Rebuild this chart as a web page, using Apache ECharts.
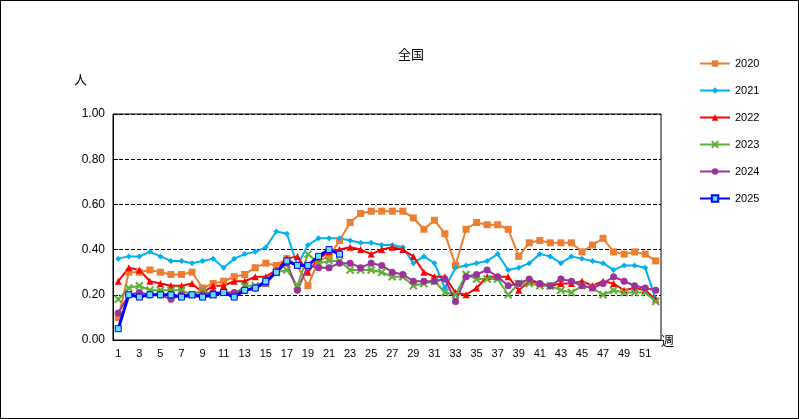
<!DOCTYPE html><html><head><meta charset="utf-8"><script src="https://cdn.jsdelivr.net/npm/echarts@6/dist/echarts.min.js"></script>
<style>body{margin:0}#c{width:797px;height:417px;border:1px solid #000}</style></head><body><div id="c"></div><script>
const weeks=Array.from({length:52},(_,i)=>String(i+1));
const names=['2020','2021','2022','2023','2024','2025'];
const s2020=[0.10,0.30,0.30,0.31,0.30,0.29,0.29,0.30,0.23,0.25,0.26,0.28,0.29,0.32,0.34,0.33,0.36,0.33,0.24,0.35,0.37,0.44,0.52,0.56,0.57,0.57,0.57,0.57,0.54,0.49,0.53,0.47,0.33,0.49,0.52,0.51,0.51,0.49,0.37,0.43,0.44,0.43,0.43,0.43,0.39,0.42,0.45,0.39,0.38,0.39,0.38,0.35];
const s2021=[0.36,0.37,0.37,0.39,0.37,0.35,0.35,0.34,0.35,0.36,0.32,0.36,0.38,0.39,0.41,0.48,0.47,0.33,0.42,0.45,0.45,0.45,0.44,0.43,0.43,0.42,0.42,0.41,0.34,0.37,0.34,0.23,0.32,0.33,0.34,0.35,0.38,0.31,0.32,0.34,0.38,0.37,0.34,0.37,0.36,0.35,0.34,0.31,0.33,0.33,0.32,0.18];
const s2022=[0.26,0.32,0.31,0.26,0.25,0.24,0.24,0.25,0.21,0.24,0.24,0.26,0.26,0.28,0.28,0.31,0.36,0.37,0.30,0.36,0.39,0.40,0.41,0.40,0.38,0.40,0.41,0.40,0.37,0.30,0.28,0.28,0.21,0.20,0.23,0.28,0.28,0.28,0.22,0.26,0.25,0.24,0.25,0.25,0.26,0.24,0.26,0.25,0.22,0.23,0.22,0.18];
const s2023=[0.18,0.23,0.24,0.22,0.22,0.22,0.22,0.20,0.22,0.20,0.21,0.20,0.24,0.24,0.25,0.30,0.31,0.24,0.38,0.34,0.35,0.35,0.31,0.31,0.31,0.30,0.28,0.28,0.24,0.25,0.26,0.21,0.20,0.29,0.27,0.27,0.27,0.20,0.25,0.25,0.24,0.24,0.22,0.21,0.24,0.23,0.20,0.22,0.21,0.21,0.21,0.17];
const s2024=[0.12,0.20,0.21,0.20,0.20,0.18,0.20,0.20,0.20,0.21,0.21,0.21,0.22,0.23,0.25,0.30,0.34,0.22,0.33,0.32,0.32,0.34,0.34,0.32,0.34,0.33,0.30,0.29,0.26,0.26,0.26,0.27,0.17,0.28,0.29,0.31,0.28,0.24,0.25,0.27,0.25,0.24,0.27,0.26,0.24,0.23,0.25,0.28,0.26,0.24,0.23,0.22];
const s2025=[0.05,0.20,0.19,0.20,0.20,0.20,0.19,0.20,0.19,0.20,0.21,0.19,0.22,0.23,0.26,0.30,0.35,0.33,0.33,0.37,0.40,0.38];
const data=[s2020,s2021,s2022,s2023,s2024,s2025];
const colors=['#ED7D31','#00B0F0','#FF0000','#5FAF3A','#9B319B','#0000FF'];
const symbols=['rect','diamond','triangle','path://M0,0L10,10M10,0L0,10','circle','rect'];
const F='"Liberation Sans",Arial,sans-serif';
const ch=echarts.init(document.getElementById('c'));
ch.setOption({animation:false,
title:{text:'全国',left:405,top:42,textAlign:'center',textStyle:{fontSize:13,fontWeight:'normal',color:'#000',fontFamily:'"Noto Sans CJK JP"'}},
legend:{orient:'vertical',left:693,top:52,itemGap:16,itemWidth:30,itemHeight:8,textStyle:{fontSize:11,color:'#000',fontFamily:F},data:names},
grid:{left:112,right:137,top:113,bottom:78},
xAxis:{type:'category',data:weeks,boundaryGap:true,name:'週',nameLocation:'end',nameGap:0,
 nameTextStyle:{fontSize:13,color:'#000',padding:[70,0,0,0],fontFamily:'"Noto Sans CJK JP"'},
 axisLine:{lineStyle:{color:'#000'}},axisTick:{alignWithLabel:false,interval:0,lineStyle:{color:'#000'}},
 axisLabel:{interval:1,color:'#000',fontSize:11,fontFamily:F}},
yAxis:{type:'value',min:0,max:1,interval:0.2,name:'人',nameGap:28,nameTextStyle:{fontSize:13,color:'#000',padding:[0,65,0,0],fontFamily:'"Noto Sans CJK JP"'},
 axisLine:{show:true,lineStyle:{color:'#000'}},axisTick:{show:true,inside:true,lineStyle:{color:'#000'}},
 axisLabel:{formatter:v=>v.toFixed(2),color:'#000',fontSize:12,fontFamily:F},
 splitLine:{lineStyle:{color:'#000',type:'dashed'}}},
series:names.map((n,i)=>({name:n,type:'line',data:data[i],color:colors[i],symbol:symbols[i],
 symbolSize:i==5?6:(i==1?6:7),lineStyle:{width:i==5?3:2,color:colors[i]},
 itemStyle:i==5?{color:'#66E0FF',borderColor:'#0000FF',borderWidth:1}:(i==3?{color:colors[i],borderColor:colors[i],borderWidth:2}:{color:colors[i]}),z:i==5?10:2})),
graphic:[{type:'rect',shape:{x:112,y:113,width:548,height:226},style:{fill:'none',stroke:'#000',lineWidth:1},z:100}]
});
</script></body></html>
